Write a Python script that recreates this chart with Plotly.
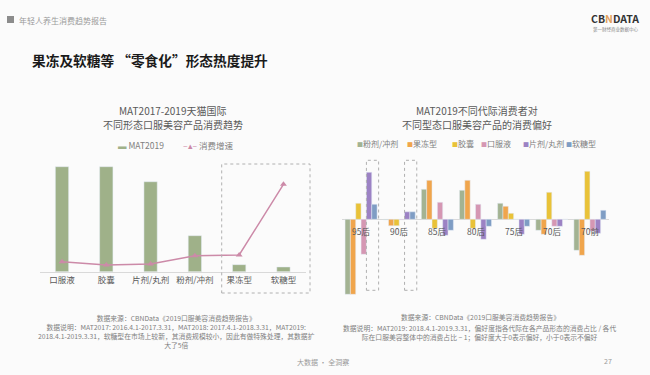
import plotly.graph_objects as go

W, H = 650, 375
def px(x):
    return x / W
def py(y):
    return 1 - y / H

FONT = "Noto Sans CJK SC"

# ---------- data: left chart ----------
forms = ["口服液", "胶囊", "片剂/丸剂", "粉剂/冲剂", "果冻型", "软糖型"]
mat2019 = [100, 100, 85.7, 34.3, 6.7, 4.5]
growth = [9.5, 6.4, 7.3, 15.2, 15.9, 83.2]

# ---------- data: right chart ----------
gens = ["95后", "90后", "85后", "80后", "75后", "70后", "70前"]
series_names = ["粉剂/冲剂", "果冻型", "胶囊", "口服液", "片剂/丸剂", "软糖型"]
pref_powder = [-0.75, -0.005, 0.30, 0.29, 0.16, -0.11, -0.31]
pref_jelly = [-0.75, -0.065, 0.39, 0.39, 0.13, -0.15, -0.36]
pref_capsule = [0.16, -0.065, -0.09, -0.09, 0.06, 0.27, 0.48]
pref_liquid = [-0.35, -0.005, 0.17, 0.15, 0.0, -0.07, -0.12]
pref_tablet = [0.47, 0.075, -0.16, -0.20, -0.15, -0.07, -0.14]
pref_gummy = [0.15, 0.075, -0.11, -0.07, -0.07, 0.0, 0.09]
series_colors = ["#a3b392", "#f0a54c", "#e9c238", "#d597b3", "#9c82c4", "#7f9dc4"]

GREEN = "#9fb189"
PINK = "#cc8aa8"

fig = go.Figure()

# left chart
fig.add_trace(go.Bar(x=forms, y=mat2019, name="MAT2019", marker_color=GREEN,
                     width=0.3, xaxis="x", yaxis="y", showlegend=False))
fig.add_trace(go.Scatter(x=forms, y=growth, name="消费增速", mode="lines+markers",
                         line=dict(color=PINK, width=1.5),
                         marker=dict(symbol="triangle-up", size=6, color=PINK),
                         xaxis="x", yaxis="y3", showlegend=False))

# right chart
all_pref = [pref_powder, pref_jelly, pref_capsule, pref_liquid, pref_tablet, pref_gummy]
for name, vals, col in zip(series_names, all_pref, series_colors):
    fig.add_trace(go.Bar(x=gens, y=vals, name=name, marker_color=col,
                         xaxis="x2", yaxis="y2", showlegend=False))

ann = []
def text(x, y, s, size, color="#7f7f7f", anchor="center", bold=False):
    ann.append(dict(x=px(x), y=py(y), xref="paper", yref="paper", text=(f"<b>{s}</b>" if bold else s),
                    showarrow=False, xanchor=anchor, yanchor="middle",
                    font=dict(family=FONT, size=size, color=color)))

# header
text(17, 20, "年轻人养生消费趋势报告", 8, "#9a9a9a", "left")
text(641, 19, "CB<span style='color:#e3a15f'>N</span>DATA", 10.5, "#333333", "right", bold=True)
text(615, 29, "第一财经商业数据中心", 4.5, "#888888", "center")
text(30, 60, "果冻及软糖等 “零食化”形态热度提升", 13.7, "#1a1a1a", "left", bold=True)

# chart titles
text(173, 110.5, "MAT2017-2019天猫国际", 10, "#595959")
text(173, 125, "不同形态口服美容产品消费趋势", 10, "#595959")
text(477, 110.5, "MAT2019不同代际消费者对", 10, "#595959")
text(477, 125, "不同型态口服美容产品的消费偏好", 10, "#595959")

# left legend
text(116, 145, f"<span style='color:{GREEN}'>▬</span> MAT2019", 8.5, "#7f7f7f", "left")
text(181, 145, f"<span style='color:{PINK}'>–▴–</span> 消费增速", 8.5, "#7f7f7f", "left")

# right legend
leg_x = [355, 405, 450, 479, 521, 564]
for lx, name, col in zip(leg_x, series_names, series_colors):
    text(lx, 143, f"<span style='color:{col};font-size:6px'>■</span>{name}", 8, "#7f7f7f", "left")

# right category labels at zero line
for g in gens:
    ann.append(dict(x=g, y=0, xref="x2", yref="y2", text=g, showarrow=False,
                    yshift=-12, font=dict(family=FONT, size=8.5, color="#595959")))

# footnotes
text(176, 331.5,
     "数据来源：CBNData《2019口服美容消费趋势报告》<br>"
     "数据说明：MAT2017: 2016.4.1-2017.3.31，MAT2018: 2017.4.1-2018.3.31，MAT2019:<br>"
     "2018.4.1-2019.3.31，软糖型在市场上较新，其消费规模较小，因此有做特殊处理，其数据扩<br>"
     "大了5倍", 6.8)

text(480, 317, "数据来源：CBNData《2019口服美容消费趋势报告》", 6.8)
text(479, 332,
     "数据说明：MAT2019: 2018.4.1-2019.3.31，偏好度指各代际在各产品形态的消费占比 / 各代<br>"
     "际在口服美容整体中的消费占比 − 1；偏好度大于0表示偏好，小于0表示不偏好", 6.8)

# footer
text(323, 362, "大数据 · 全洞察", 7, "#9a9a9a")
text(608, 361, "27", 7, "#9a9a9a")

shapes = [
    # header square
    dict(type="rect", xref="paper", yref="paper", x0=px(7), x1=px(14), y0=py(23), y1=py(16),
         fillcolor="#8c8c8c", line_width=0),
    # left dashed box
    dict(type="rect", xref="paper", yref="paper", x0=px(221.7), x1=px(310), y0=py(293), y1=py(164),
         line=dict(color="#b0b0b0", width=1, dash="dot")),
]
for i in (0, 1):
    shapes.append(dict(type="rect", xref="x2", yref="y2", x0=i + 0.14, x1=i + 0.46, y0=-0.71, y1=0.59,
                       line=dict(color="#b0b0b0", width=1, dash="dot")))

fig.update_layout(
    width=W, height=H,
    margin=dict(l=0, r=0, t=0, b=0),
    paper_bgcolor="#fbfbfb", plot_bgcolor="rgba(0,0,0,0)",
    barmode="group", bargap=0.16, bargroupgap=0,
    font=dict(family=FONT, color="#595959"),
    annotations=ann, shapes=shapes,
    hovermode=False,
    xaxis=dict(domain=[px(39.85), px(305.6)], type="category", range=[-0.5, 5.5],
               showline=True, linecolor="#d9d9d9", linewidth=1, ticks="", ticklen=0,
               tickfont=dict(family=FONT, size=8.5, color="#595959"), anchor="y", fixedrange=True),
    yaxis=dict(domain=[py(271.7), py(156.2)], range=[0, 110], visible=False, anchor="x", fixedrange=True),
    yaxis3=dict(overlaying="y", range=[0, 110], visible=False, anchor="x", fixedrange=True),
    xaxis2=dict(domain=[px(342), px(609)], type="category", range=[-0.5, 6.5], visible=False,
                anchor="y2", fixedrange=True),
    yaxis2=dict(domain=[py(299.3), py(157.3)], range=[-0.80, 0.62], showgrid=False,
                showticklabels=False, zeroline=True, zerolinecolor="#d9d9d9", zerolinewidth=1,
                anchor="x2", fixedrange=True),
)

fig.write_html("out.html", config={"displayModeBar": False},
               post_script="document.body.style.margin='0';document.body.style.overflow='hidden';")
